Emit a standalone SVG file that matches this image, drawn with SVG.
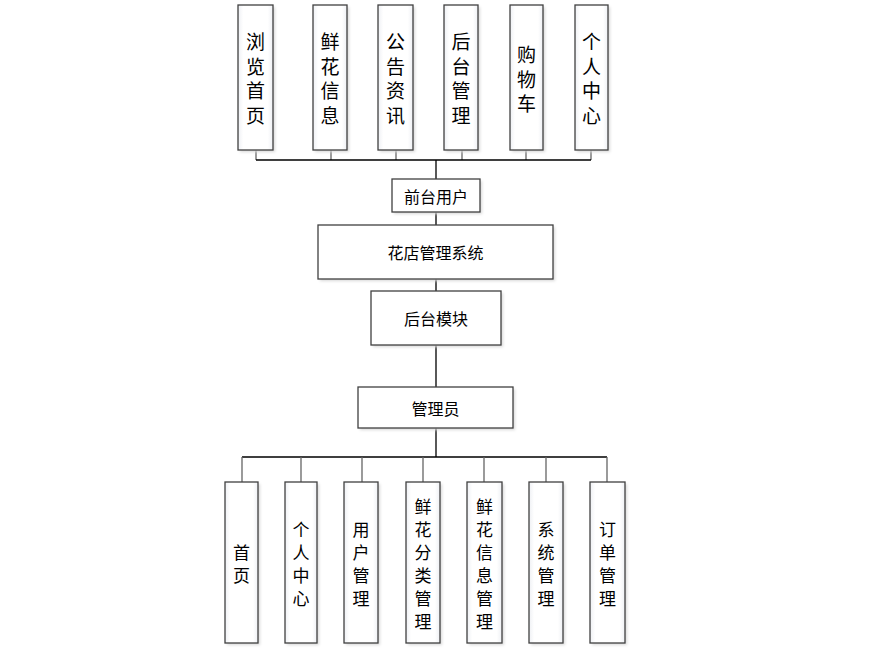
<svg xmlns="http://www.w3.org/2000/svg" width="880" height="653" viewBox="0 0 880 653">
<defs>
<linearGradient id="g" x1="0" y1="0" x2="1" y2="0">
<stop offset="0" stop-color="#eef0f4"/>
<stop offset="0.15" stop-color="#ffffff"/>
<stop offset="0.85" stop-color="#ffffff"/>
<stop offset="1" stop-color="#eef0f4"/>
</linearGradient>
<filter id="sh" x="-20%" y="-20%" width="140%" height="140%">
<feGaussianBlur stdDeviation="1.5"/>
</filter>
</defs>
<style>
.s{fill:#d8d8d8;filter:url(#sh)}
.b{fill:url(#g);stroke:#404040;stroke-width:1.3}
.h{fill:#ffffff;stroke:#404040;stroke-width:1.3}
.t{font-family:"Noto Sans CJK SC","Microsoft YaHei",sans-serif;fill:#000;text-anchor:middle;dominant-baseline:central}
.tv{font-size:19px}
.tb{font-size:17px}
.th{font-size:16px}
.c{stroke:#000;stroke-width:1.3;fill:none}
.cs{stroke:#666;stroke-width:1.3;fill:none}
</style>
<rect width="880" height="653" fill="#fff"/>
<g id="connectors">
<path class="cs" d="M256 150V160M331 150V160M396 150V160M462 150V160M526 150V160M591 150V160"/>
<path class="c" d="M256 160H591M436 160V179M436 212V225M436 279V291M436 345V387M436 428V457M242 457H607"/>
<path class="cs" d="M242 457V482M301 457V482M362 457V482M423 457V482M484 457V482M546 457V482M607 457V482"/>
</g>
<g id="n1"><rect class="s" x="240" y="7" width="35" height="145"/><rect class="b" x="238" y="5" width="35" height="145"/>
<text class="t tv"><tspan x="255.5" y="40">浏</tspan><tspan x="255.5" y="64.5">览</tspan><tspan x="255.5" y="89">首</tspan><tspan x="255.5" y="113.5">页</tspan></text></g>
<g id="n2"><rect class="s" x="315" y="7" width="34" height="145"/><rect class="b" x="313" y="5" width="34" height="145"/>
<text class="t tv"><tspan x="330" y="40">鲜</tspan><tspan x="330" y="64.5">花</tspan><tspan x="330" y="89">信</tspan><tspan x="330" y="113.5">息</tspan></text></g>
<g id="n3"><rect class="s" x="380" y="7" width="35" height="145"/><rect class="b" x="378" y="5" width="35" height="145"/>
<text class="t tv"><tspan x="395.5" y="40">公</tspan><tspan x="395.5" y="64.5">告</tspan><tspan x="395.5" y="89">资</tspan><tspan x="395.5" y="113.5">讯</tspan></text></g>
<g id="n4"><rect class="s" x="446" y="7" width="34" height="145"/><rect class="b" x="444" y="5" width="34" height="145"/>
<text class="t tv"><tspan x="461" y="40">后</tspan><tspan x="461" y="64.5">台</tspan><tspan x="461" y="89">管</tspan><tspan x="461" y="113.5">理</tspan></text></g>
<g id="n5"><rect class="s" x="512" y="7" width="33" height="145"/><rect class="b" x="510" y="5" width="33" height="145"/>
<text class="t tv"><tspan x="526.5" y="53">购</tspan><tspan x="526.5" y="77.5">物</tspan><tspan x="526.5" y="102">车</tspan></text></g>
<g id="n6"><rect class="s" x="577" y="7" width="33" height="145"/><rect class="b" x="575" y="5" width="33" height="145"/>
<text class="t tv"><tspan x="591.5" y="40">个</tspan><tspan x="591.5" y="64.5">人</tspan><tspan x="591.5" y="89">中</tspan><tspan x="591.5" y="113.5">心</tspan></text></g>
<g id="qiantai"><rect class="s" x="394" y="181" width="88" height="33"/><rect class="h" x="392" y="179" width="88" height="33"/>
<text class="t th" x="436" y="196">前台用户</text></g>
<g id="system"><rect class="s" x="320" y="227" width="235" height="54"/><rect class="h" x="318" y="225" width="235" height="54"/>
<text class="t th" x="435.5" y="252">花店管理系统</text></g>
<g id="houtai"><rect class="s" x="373" y="293" width="130" height="54"/><rect class="h" x="371" y="291" width="130" height="54"/>
<text class="t th" x="436" y="318">后台模块</text></g>
<g id="admin"><rect class="s" x="360" y="389" width="155" height="41"/><rect class="h" x="358" y="387" width="155" height="41"/>
<text class="t th" x="435.5" y="408">管理员</text></g>
<g id="m1"><rect class="s" x="227" y="484" width="33" height="161"/><rect class="b" x="225" y="482" width="33" height="161"/>
<text class="t tb"><tspan x="241.5" y="551">首</tspan><tspan x="241.5" y="574">页</tspan></text></g>
<g id="m2"><rect class="s" x="287" y="484" width="32" height="161"/><rect class="b" x="285" y="482" width="32" height="161"/>
<text class="t tb"><tspan x="301" y="528">个</tspan><tspan x="301" y="551">人</tspan><tspan x="301" y="574">中</tspan><tspan x="301" y="597">心</tspan></text></g>
<g id="m3"><rect class="s" x="346" y="484" width="34" height="161"/><rect class="b" x="344" y="482" width="34" height="161"/>
<text class="t tb"><tspan x="361" y="528">用</tspan><tspan x="361" y="551">户</tspan><tspan x="361" y="574">管</tspan><tspan x="361" y="597">理</tspan></text></g>
<g id="m4"><rect class="s" x="408" y="484" width="34" height="161"/><rect class="b" x="406" y="482" width="34" height="161"/>
<text class="t tb"><tspan x="423" y="505">鲜</tspan><tspan x="423" y="528">花</tspan><tspan x="423" y="551">分</tspan><tspan x="423" y="574">类</tspan><tspan x="423" y="597">管</tspan><tspan x="423" y="620">理</tspan></text></g>
<g id="m5"><rect class="s" x="469" y="484" width="35" height="161"/><rect class="b" x="467" y="482" width="35" height="161"/>
<text class="t tb"><tspan x="484.5" y="505">鲜</tspan><tspan x="484.5" y="528">花</tspan><tspan x="484.5" y="551">信</tspan><tspan x="484.5" y="574">息</tspan><tspan x="484.5" y="597">管</tspan><tspan x="484.5" y="620">理</tspan></text></g>
<g id="m6"><rect class="s" x="531" y="484" width="34" height="161"/><rect class="b" x="529" y="482" width="34" height="161"/>
<text class="t tb"><tspan x="546" y="528">系</tspan><tspan x="546" y="551">统</tspan><tspan x="546" y="574">管</tspan><tspan x="546" y="597">理</tspan></text></g>
<g id="m7"><rect class="s" x="592" y="484" width="35" height="161"/><rect class="b" x="590" y="482" width="35" height="161"/>
<text class="t tb"><tspan x="607.5" y="528">订</tspan><tspan x="607.5" y="551">单</tspan><tspan x="607.5" y="574">管</tspan><tspan x="607.5" y="597">理</tspan></text></g>
</svg>
